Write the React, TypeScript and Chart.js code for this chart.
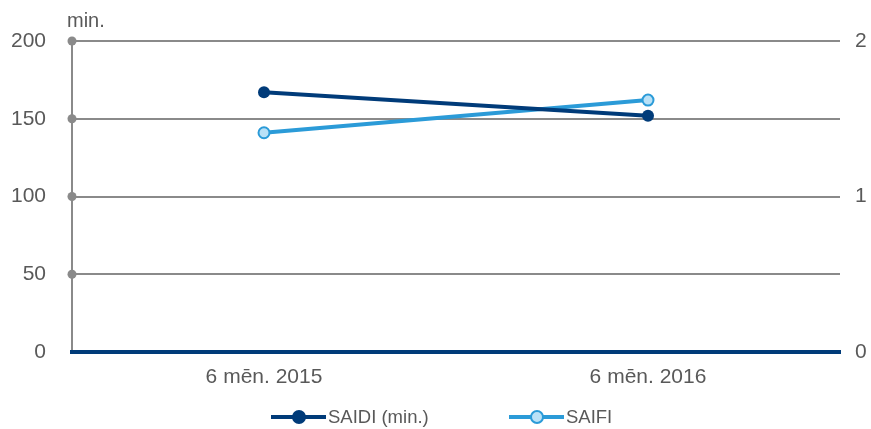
import React, { useEffect, useRef } from "react";
import { Chart, registerables } from "chart.js";

Chart.register(...registerables);

const categories = ["6 mēn. 2015", "6 mēn. 2016"];
const saidiValues = [167, 152];
const saifiValues = [1.41, 1.62];
const leftTicks = [0, 50, 100, 150, 200];
const rightTicks = [0, 1, 2];
const unitLabel = "min.";
const seriesNames = ["SAIDI (min.)", "SAIFI"];

const NAVY = "#003b79";
const LIGHT = "#2b9bd8";
const LIGHT_FILL = "#b9e1f7";
const GRID = "#8a8a8a";
const TEXT = "#595959";
const FONT = "'Liberation Sans', Arial, sans-serif";
const AXIS_SIZE = 21;
const LEGEND_SIZE = 18.5;

const decoPlugin = {
  id: "deco",
  afterDraw(chart: any) {
    const { ctx, chartArea, scales } = chart;
    const y = scales.y;
    ctx.save();
    ctx.fillStyle = GRID;
    leftTicks.forEach((v) => {
      if (v === 0) return;
      const py = y.getPixelForValue(v);
      ctx.beginPath();
      ctx.arc(chartArea.left, py, 4.5, 0, Math.PI * 2);
      ctx.fill();
    });
    ctx.fillStyle = TEXT;
    ctx.font = `20px ${FONT}`;
    ctx.textAlign = "left";
    ctx.textBaseline = "alphabetic";
    ctx.fillText(unitLabel, chartArea.left - 5, chartArea.top - 14);
    ctx.restore();
  },
};

function LegendItem({ label, color, fill, left }: { label: string; color: string; fill: string; left: number }) {
  return (
    <div style={{ position: "absolute", left, top: 407, height: 20, display: "flex", alignItems: "center" }}>
      <div style={{ position: "relative", width: 55, height: 20 }}>
        <div style={{ position: "absolute", left: 0, right: 0, top: 8, height: 4, background: color }} />
        <div
          style={{
            position: "absolute",
            left: 21,
            top: 3,
            width: 10,
            height: 10,
            borderRadius: "50%",
            background: fill,
            border: `2px solid ${color}`,
          }}
        />
      </div>
      <span style={{ marginLeft: 2, font: `${LEGEND_SIZE}px ${FONT}`, color: TEXT, lineHeight: "20px" }}>{label}</span>
    </div>
  );
}

export default function App() {
  const ref = useRef<HTMLCanvasElement | null>(null);

  useEffect(() => {
    document.body.style.margin = "0";
    const canvas = ref.current!;
    const chart = new Chart(canvas, {
      type: "line",
      data: {
        labels: categories,
        datasets: [
          {
            label: seriesNames[0],
            data: saidiValues,
            yAxisID: "y",
            borderColor: NAVY,
            backgroundColor: NAVY,
            borderWidth: 4,
            pointRadius: 6,
            pointBorderWidth: 0,
            pointBackgroundColor: NAVY,
            tension: 0,
          },
          {
            label: seriesNames[1],
            data: saifiValues,
            yAxisID: "y1",
            borderColor: LIGHT,
            backgroundColor: LIGHT_FILL,
            borderWidth: 4,
            pointRadius: 5.5,
            pointBorderWidth: 2,
            pointBorderColor: LIGHT,
            pointBackgroundColor: LIGHT_FILL,
            tension: 0,
          },
        ],
      },
      options: {
        animation: false,
        responsive: false,
        maintainAspectRatio: false,
        layout: { padding: { top: 41, bottom: 0, left: 0, right: 0 } },
        plugins: { legend: { display: false }, tooltip: { enabled: false } },
        scales: {
          x: {
            offset: true,
            grid: { display: false, drawTicks: false },
            border: { display: true, color: NAVY, width: 4, z: 1 },
            ticks: { color: TEXT, font: { size: AXIS_SIZE, family: FONT }, padding: 13 },
            afterFit: (s: any) => {
              s.height = 77;
            },
          },
          y: {
            position: "left",
            min: 0,
            max: 200,
            afterBuildTicks: (s: any) => {
              s.ticks = leftTicks.map((v) => ({ value: v }));
            },
            grid: {
              drawTicks: false,
              color: (c: any) => (c.tick && c.tick.value === 0 ? "rgba(0,0,0,0)" : GRID),
              lineWidth: 2,
            },
            border: { display: true, color: GRID, width: 2 },
            ticks: { color: TEXT, font: { size: AXIS_SIZE, family: FONT }, padding: 26 },
            afterFit: (s: any) => {
              s.width = 72;
            },
          },
          y1: {
            position: "right",
            min: 0,
            max: 2,
            afterBuildTicks: (s: any) => {
              s.ticks = rightTicks.map((v) => ({ value: v }));
            },
            grid: { display: false, drawTicks: false },
            border: { display: false },
            ticks: { color: TEXT, font: { size: AXIS_SIZE, family: FONT }, padding: 15 },
            afterFit: (s: any) => {
              s.width = 31;
            },
          },
        },
      },
      plugins: [decoPlugin],
    } as any);
    return () => chart.destroy();
  }, []);

  return (
    <div style={{ position: "relative", width: 871, height: 429 }}>
      <canvas ref={ref} width={871} height={429} style={{ display: "block", width: 871, height: 429 }} />
      <LegendItem label={seriesNames[0]} color={NAVY} fill={NAVY} left={271} />
      <LegendItem label={seriesNames[1]} color={LIGHT} fill={LIGHT_FILL} left={509} />
    </div>
  );
}
